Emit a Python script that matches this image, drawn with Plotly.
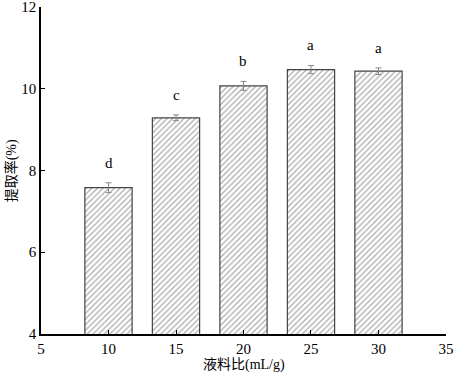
import plotly.graph_objects as go

ratios = [10, 15, 20, 25, 30]
yields = [7.58, 9.29, 10.07, 10.47, 10.43]
errors = [0.12, 0.07, 0.11, 0.10, 0.08]
letters = ["d", "c", "b", "a", "a"]

fig = go.Figure()
fig.add_trace(go.Bar(
    x=ratios, y=yields, width=3.5,
    marker=dict(color="white", line=dict(color="#444444", width=1.2),
                pattern=dict(shape="/", fgcolor="#555555", bgcolor="white", size=4, solidity=0.3)),
    error_y=dict(type="data", array=errors, color="#888888", thickness=1, width=3),
))
for x, y, e, t in zip(ratios, yields, errors, letters):
    fig.add_annotation(x=x, y=y + e, text=t, showarrow=False, yshift=20,
                       font=dict(family="Liberation Serif", size=15, color="black"))

fig.add_annotation(xref="paper", yref="paper", x=0.5, y=-0.095, text="液料比(mL/g)", showarrow=False,
                   yanchor="middle", font=dict(family="Liberation Serif, Noto Sans CJK SC", size=14, color="black"))
fig.add_annotation(xref="paper", yref="paper", x=-0.072, y=0.5, text="提取率(%)", showarrow=False,
                   textangle=-90, xanchor="center", font=dict(family="Liberation Serif, Noto Sans CJK SC", size=14, color="black"))

fig.update_layout(
    width=455, height=380,
    margin=dict(l=41, r=9, t=7, b=46),
    plot_bgcolor="white", paper_bgcolor="white",
    showlegend=False,
    font=dict(family="Liberation Serif, Noto Sans CJK SC", size=15, color="black"),
    xaxis=dict(range=[5, 35.001], tickvals=[5, 10, 15, 20, 25, 30, 35], showline=True, linecolor="black",
               linewidth=1.5, ticks="inside", ticklen=4, tickcolor="black", showgrid=False, zeroline=False,
               automargin=False, tickfont=dict(color="black"), ticklabeloverflow="allow"),
    yaxis=dict(range=[3.999, 12.001], tickvals=[4, 6, 8, 10, 12], showline=True, linecolor="black",
               linewidth=1.5, ticks="inside", ticklen=4, tickcolor="black", showgrid=False, zeroline=False,
               automargin=False, tickfont=dict(color="black"), ticklabeloverflow="allow"),
)
fig.write_html("out.html", config={"displayModeBar": False},
               post_script="document.body.style.margin='0';document.body.style.overflow='hidden';")
